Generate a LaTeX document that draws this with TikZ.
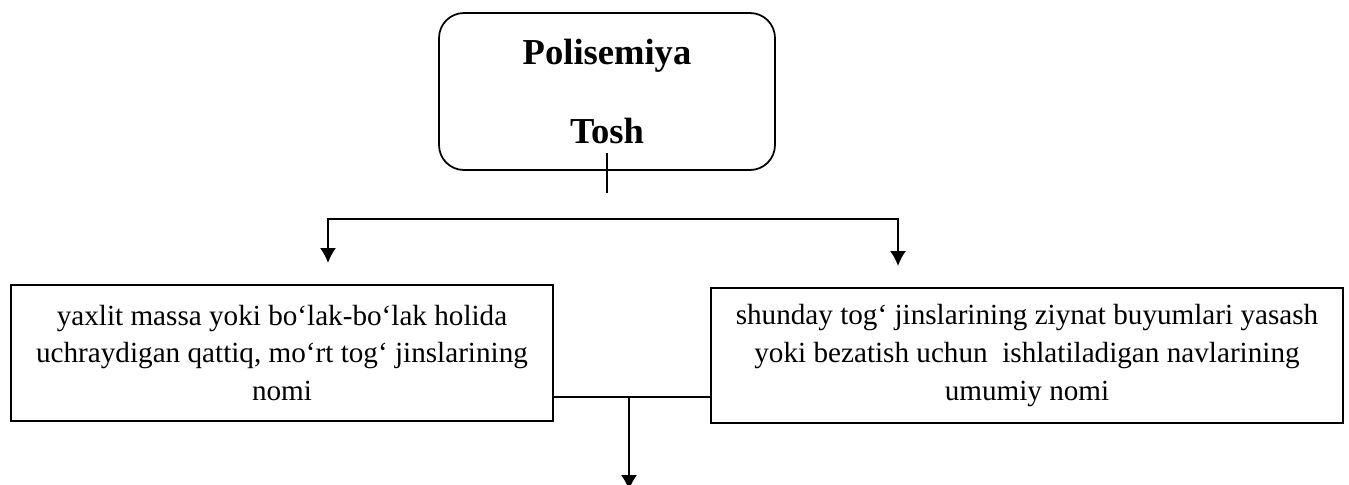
\documentclass[tikz,border=0pt]{standalone}
\usepackage{fontspec}
\setmainfont{Liberation Serif}
\usetikzlibrary{arrows.meta}

\tikzset{
  meaningbox/.style={draw, line width=0.035cm, align=center, inner sep=0pt,
    font=\fontsize{16.6}{21.6}\selectfont},
}

\begin{document}
\begin{tikzpicture}[line width=0.035cm, >={Latex[length=0.3cm,width=0.32cm]}]
\useasboundingbox (0,0) rectangle (26.98,-9.70);

\pgfmathsetmacro\x{12.14}

% the word and its title
\node[draw, rounded corners=0.5cm, minimum width=6.72cm, minimum height=3.14cm, align=center,
  font=\fontsize{20.8}{45.5}\selectfont\bfseries] (title) at (\x,-1.83) {Polisemiya\\Tosh};

\coordinate (stem_top) at (\x,-3.06);
\coordinate (stem_end) at (\x,-3.86);
\draw[line width=0.025cm] (stem_top) -- (stem_end);

% split into the two meanings
\coordinate (left_tip) at (6.56,-5.26);
\coordinate (bar_right) at (17.96,-4.38);
\coordinate (right_tip) at (17.96,-5.32);
\draw[<->] (left_tip) |- (bar_right) -- (right_tip);

\node[meaningbox, minimum width=10.84cm, minimum height=2.72cm] (meaning_a) at (5.64,-7.06)
  {yaxlit massa yoki bo‘lak-bo‘lak holida\\uchraydigan qattiq, mo‘rt tog‘ jinslarining\\nomi};
\node[meaningbox, minimum width=12.64cm, minimum height=2.70cm] (meaning_b) at (20.54,-7.11)
  {shunday tog‘ jinslarining ziynat buyumlari yasash\\yoki bezatish uchun~ ishlatiladigan navlarining\\umumiy nomi};

\pgfmathsetmacro\x{12.58}

% joined again below
\coordinate (join) at (\x,-7.94);
\coordinate (out) at (\x,-9.80);
\draw (meaning_a.east |- join) -- (meaning_b.west |- join);
\draw[->] (join) -- (out);

\end{tikzpicture}
\end{document}
